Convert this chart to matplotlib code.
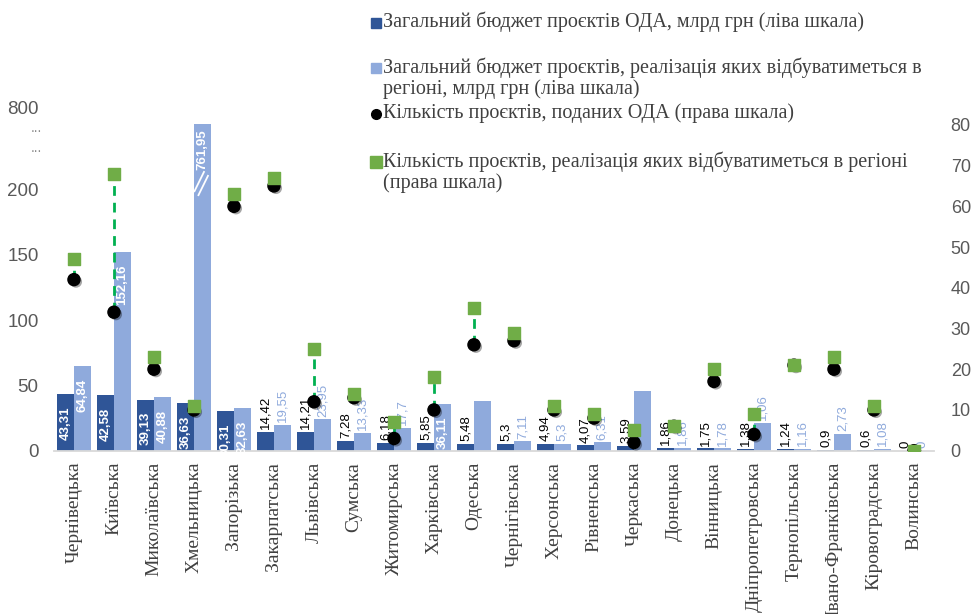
import numpy as np
import matplotlib
matplotlib.use('Agg')
import matplotlib.pyplot as plt
import matplotlib.patheffects as pe

regions = ['Чернівецька', 'Київська', 'Миколаївська', 'Хмельницька', 'Запорізька',
           'Закарпатська', 'Львівська', 'Сумська', 'Житомирська', 'Харківська',
           'Одеська', 'Чернігівська', 'Херсонська', 'Рівненська', 'Черкаська',
           'Донецька', 'Вінницька', 'Дніпропетровська', 'Тернопільська',
           'Івано-Франківська', 'Кіровоградська', 'Волинська']

# загальний бюджет проєктів ОДА, млрд грн
budget_oda = [43.31, 42.58, 39.13, 36.63, 30.31, 14.42, 14.21, 7.28, 6.18, 5.85,
              5.48, 5.3, 4.94, 4.07, 3.59, 1.86, 1.75, 1.38, 1.24, 0.9, 0.6, 0]

# бюджет проєктів, що реалізуються в регіоні (висота стовпців як на рисунку)
budget_region = [64.84, 152.16, 40.88, 761.95, 32.63, 19.55, 23.95, 13.33, 17.7, 36.11,
                 38.0, 7.11, 5.3, 6.31, 45.5, 1.86, 1.78, 21.0, 1.16, 12.6, 1.08, 0]
# підписи цих стовпців (на рисунку деяких немає або вони не збігаються з висотою)
region_labels = ['64,84', '152,16', '40,88', '761,95', '32,63', '19,55', '23,95', '13,33',
                 '17,7', '36,11', '', '7,11', '5,3', '6,31', '', '1,86', '1,78', '1,06',
                 '1,16', '2,73', '1,08', '0']

# кількість проєктів (права шкала)
projects_oda = [42, 34, 20, 10, 60, 65, 12, 13, 3, 10, 26, 27, 10, 8, 2, 6, 17, 4, 21, 20, 10, 0]
projects_region = [47, 68, 23, 11, 63, 67, 25, 14, 7, 18, 35, 29, 11, 9, 5, 6, 20, 9, 21, 23, 11, 0]

left_ticks = [0, 50, 100, 150, 200]
right_ticks = [0, 10, 20, 30, 40, 50, 60, 70, 80]

legend_labels = [
    'Загальний бюджет проєктів ОДА, млрд грн (ліва шкала)',
    'Загальний бюджет проєктів, реалізація яких відбуватиметься в\nрегіоні, млрд грн (ліва шкала)',
    'Кількість проєктів, поданих ОДА (права шкала)',
    'Кількість проєктів, реалізація яких відбуватиметься в регіоні\n(права шкала)',
]

DARK = '#2F5597'
LIGHT = '#8FAADC'
GREEN = '#70AD47'
DASH = '#00B050'
GRAY = '#595959'

plt.rcParams['font.family'] = ['Liberation Sans', 'DejaVu Sans']
SERIF = ['Liberation Serif', 'DejaVu Serif']

# axis break: values above 200 are drawn up to 250, top of the scale reads 800
BREAK_AT = 200
BREAK_TOP = 250

fig = plt.figure(figsize=(9.74, 6.14), dpi=100)
ax = fig.add_axes([0.0554, 0.266, 0.9035, 0.5638])
ax2 = ax.twinx()

x = np.arange(len(regions))
w = 0.415
off = 0.21
oda = np.array(budget_oda)
reg = np.array(budget_region)
reg_plot = np.where(reg > BREAK_AT, BREAK_TOP, reg)

ax.bar(x - off, oda, width=w, color=DARK, zorder=2)
ax.bar(x + off, reg_plot, width=w, color=LIGHT, zorder=2)

# break marks on the clipped bar
for xi in x[reg > BREAK_AT]:
    x0 = xi + off - w / 2
    for k in range(2):
        ax.plot([x0 + k * 0.1, x0 + 0.62 * w + k * 0.1], [198 - k * 3, 214 - k * 3],
                color='white', lw=1.3, zorder=3, solid_capstyle='butt')

# bar labels
for xi, v in zip(x, oda):
    lab = f'{v:g}'.replace('.', ',')
    if v > 30:
        ax.annotate(lab, (xi - off, v), xytext=(0, -9), textcoords='offset points',
                    rotation=90, ha='center', va='top', color='white', fontsize=9.5,
                    fontweight='bold', zorder=4)
    else:
        ax.annotate(lab, (xi - off, v), xytext=(0, 2), textcoords='offset points',
                    rotation=90, ha='center', va='bottom', color='black', fontsize=9.5, zorder=4)

for xi, v, vp, lab in zip(x, reg, reg_plot, region_labels):
    if not lab:
        continue
    if v > 30:
        pad = -4 if v > BREAK_AT else -9
        ax.annotate(lab, (xi + off, vp), xytext=(0, pad), textcoords='offset points',
                    rotation=90, ha='center', va='top', color='white', fontsize=9.5,
                    fontweight='bold', zorder=4)
    else:
        ax.annotate(lab, (xi + off, vp), xytext=(0, 2), textcoords='offset points',
                    rotation=90, ha='center', va='bottom', color=LIGHT, fontsize=9.5, zorder=4)

ax.set_xlim(-0.5, len(regions) - 0.5)
ax.set_ylim(0, 265)
ax.set_yticks(left_ticks + [263], [str(t) for t in left_ticks] + ['800'])
for yv in [247, 232]:
    ax.text(-0.014, yv, '...', transform=ax.get_yaxis_transform(), ha='right', va='center',
            color='#8C8C8C', fontsize=10)
ax.set_xticks(x, regions, rotation=90, fontfamily=SERIF, fontsize=14, color='#404040')
ax.tick_params(axis='x', length=0, pad=8)
ax.tick_params(axis='y', length=0, pad=11, labelsize=13.5, labelcolor=GRAY)

# project counts on the right scale
po = np.array(projects_oda)
pr = np.array(projects_region)
diff = po != pr
ax2.vlines(x[diff], po[diff], pr[diff], colors=DASH, linestyles=(0, (3.5, 2.5)), lw=2, zorder=2)
ax2.scatter(x, po, s=75, color='black', zorder=3,
            path_effects=[pe.SimplePatchShadow(offset=(1.5, -1.5), alpha=0.35), pe.Normal()])
ax2.scatter(x, pr, s=70, marker='s', color=GREEN, zorder=4)
ax2.set_ylim(0, 85)
ax2.set_yticks(right_ticks)
ax2.tick_params(axis='y', length=0, pad=12, labelsize=13, labelcolor=GRAY)

for a in (ax, ax2):
    for side in ('top', 'left', 'right', 'bottom'):
        a.spines[side].set_visible(False)
ax.spines['bottom'].set_visible(True)
ax.spines['bottom'].set_color('#D9D9D9')
ax.spines['bottom'].set_linewidth(1.3)

# legend drawn by hand (entries are unevenly spaced in the original)
H = 614.0
W = 974.0
legend_y = [23, 68, 114, 162]
legend_markers = [('s', DARK, 7), ('s', LIGHT, 7), ('o', 'black', 7), ('s', GREEN, 8)]
for lab, yp, (m, c, ms) in zip(legend_labels, legend_y, legend_markers):
    fig.text(383 / W, 1 - (yp - 11) / H, lab, ha='left', va='top', fontsize=14.5,
             fontfamily=SERIF, color='#404040', linespacing=1.15)
    fig.lines.append(plt.Line2D([376 / W], [1 - yp / H], marker=m, color=c, markersize=ms,
                                linestyle='none', transform=fig.transFigure))

fig.savefig('out.png', dpi=100)
